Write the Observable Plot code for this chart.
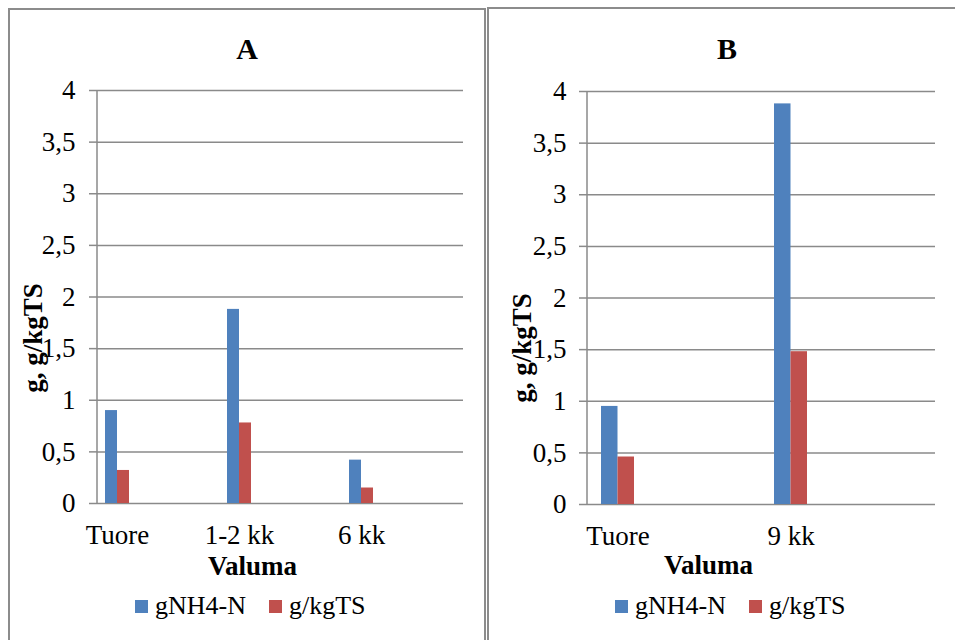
<!DOCTYPE html>
<html>
<head>
<meta charset="utf-8">
<script src="https://cdn.jsdelivr.net/npm/d3@7"></script>
<script src="https://cdn.jsdelivr.net/npm/@observablehq/plot@0.6"></script>
<style>
  body { margin: 0; background: #fff; width: 955px; height: 640px; overflow: hidden; position: relative;
         font-family: "Liberation Serif", "Times New Roman", serif; color: #000; }
  .panel { position: absolute; border: 2px solid #8c8c8c; border-bottom: none; height: 660px; background: #fff; }
  .title { position: absolute; text-align: center; font-weight: bold; font-size: 30px; line-height: 30px; }
  .chart { position: absolute; left: 0; }
  .legend { position: absolute; display: flex; align-items: center; font-size: 26px; line-height: 30px; height: 30px; white-space: nowrap; }
  .legend .sw { display: inline-block; width: 13px; height: 13px; margin-right: 7px; }
  .legend .item { display: flex; align-items: center; margin-right: 23px; }
</style>
</head>
<body>
<div class="panel" id="panelA" style="left:8px; top:8px; width:474px;">
  <div class="title" style="left:0; top:24px; width:474px;">A</div>
  <div class="chart" id="chartA" style="top:60px;"></div>
  <div class="legend" id="legendA" style="left:125px; top:581px;"></div>
</div>
<div class="panel" id="panelB" style="left:487px; top:7px; width:480px;">
  <div class="title" style="left:0; top:25px; width:476px;">B</div>
  <div class="chart" id="chartB" style="top:61px;"></div>
  <div class="legend" id="legendB" style="left:126px; top:582px;"></div>
</div>
<script>
// Ammonium nitrogen content of manure by storage age (valuma)
const seriesNames = ["gNH4-N", "g/kgTS"];
const seriesColors = ["#4F81BD", "#C0504D"];

const categoriesA = ["Tuore", "1-2 kk", "6 kk"];
const nh4A = [0.90, 1.88, 0.42];
const tsA = [0.32, 0.78, 0.15];

const categoriesB = ["Tuore", "9 kk"];
const nh4B = [0.95, 3.88];
const tsB = [0.46, 1.48];

const yTicks = [0, 0.5, 1, 1.5, 2, 2.5, 3, 3.5, 4];
const yLabel = "g, g/kgTS";
const xLabel = "Valuma";

const gridColor = "#8a8a8a";
const fontFamily = "'Liberation Serif', 'Times New Roman', serif";
const fontSize = 27;
const commaFormat = d => String(d).replace(".", ",");

function buildPanel(o) {
  const rows = s => o.categories.map((c, i) => ({category: c, value: s[i]}));
  const band = (o.xRange[1] - o.xRange[0]) / o.categories.length;
  const half = band / 2;

  // vertical y-axis line along the left edge of the frame
  const axisLine = (index, scales, values, dims) =>
    d3.create("svg:line")
      .attr("x1", dims.marginLeft).attr("x2", dims.marginLeft)
      .attr("y1", dims.marginTop).attr("y2", dims.height - dims.marginBottom)
      .attr("stroke", gridColor).attr("stroke-width", 1.5)
      .node();

  return Plot.plot({
    width: o.width,
    height: 515,
    marginLeft: o.marginLeft,
    marginRight: o.marginRight,
    marginTop: o.marginTop,
    marginBottom: o.marginBottom,
    style: {fontFamily, fontSize: fontSize + "px", color: "#000", background: "transparent", overflow: "visible"},
    x: {type: "band", domain: o.categories, range: o.xRange, padding: 0, axis: null},
    y: {domain: [0, 4], axis: null},
    marks: [
      Plot.gridY(yTicks, {stroke: gridColor, strokeOpacity: 1, strokeWidth: 1.5}),
      Plot.axisY(yTicks, {tickSize: 8, tickPadding: o.tickPadding, tickFormat: commaFormat,
        stroke: gridColor, strokeWidth: 1.5, fontSize, label: null}),
      Plot.axisX({tickSize: 0, tickPadding: 21, fontSize, label: null}),
      axisLine,
      Plot.barY(rows(o.nh4), {x: "category", y: "value", fill: seriesColors[0],
        insetLeft: half - o.barWidth, insetRight: half}),
      Plot.barY(rows(o.ts), {x: "category", y: "value", fill: seriesColors[1],
        insetLeft: half, insetRight: half - o.barWidth}),
      Plot.text([yLabel], {frameAnchor: "left", rotate: -90, dx: o.yLabelDx, dy: o.yLabelDy,
        fontWeight: "bold", fontSize, textAnchor: "middle", lineAnchor: "middle"}),
      Plot.text([xLabel], {frameAnchor: "bottom", dx: o.xLabelDx, dy: o.xLabelDy,
        fontWeight: "bold", fontSize, textAnchor: "middle", lineAnchor: "middle"})
    ]
  });
}

function buildLegend(el) {
  seriesNames.forEach((name, i) => {
    const item = document.createElement("span");
    item.className = "item";
    const sw = document.createElement("span");
    sw.className = "sw";
    sw.style.background = seriesColors[i];
    item.appendChild(sw);
    item.appendChild(document.createTextNode(name));
    el.appendChild(item);
  });
}

document.getElementById("chartA").appendChild(buildPanel({
  categories: categoriesA, nh4: nh4A, ts: tsA,
  width: 474, marginLeft: 87, marginRight: 21, marginTop: 20, marginBottom: 82,
  xRange: [46, 412], barWidth: 12, tickPadding: 14,
  yLabelDx: -64, yLabelDy: 41, xLabelDx: -28, xLabelDy: 63
}));

document.getElementById("chartB").appendChild(buildPanel({
  categories: categoriesB, nh4: nh4B, ts: tsB,
  width: 466, marginLeft: 98, marginRight: 20, marginTop: 21, marginBottom: 81,
  xRange: [41.5, 387.5], barWidth: 16.5, tickPadding: 13,
  yLabelDx: -65, yLabelDy: 50, xLabelDx: -53, xLabelDy: 61
}));

buildLegend(document.getElementById("legendA"));
buildLegend(document.getElementById("legendB"));
</script>
</body>
</html>
